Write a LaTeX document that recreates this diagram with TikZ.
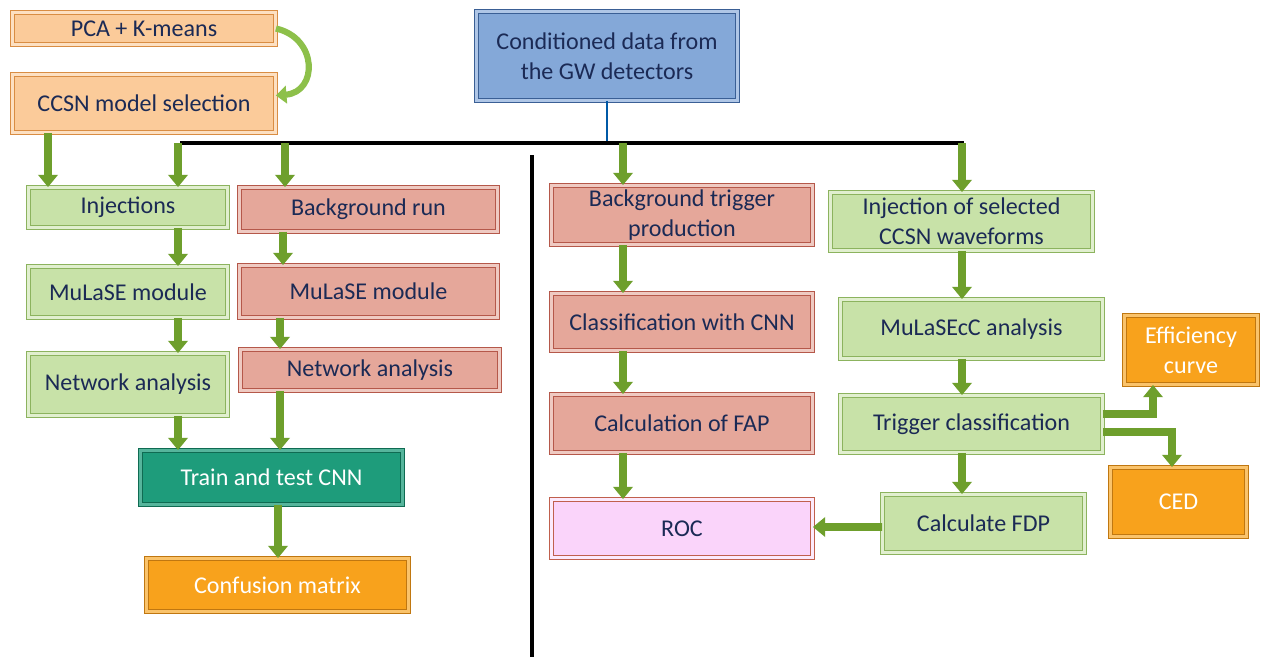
\documentclass[tikz,border=0pt]{standalone}
\usepackage{fontspec}
\setmainfont{Carlito}
\usetikzlibrary{arrows.meta,calc}
\definecolor{txt}{HTML}{1B2A55}
\definecolor{peachF}{HTML}{FBCB9A}\definecolor{peachD}{HTML}{D98D43}
\definecolor{blueF}{HTML}{84A8D8}\definecolor{blueD}{HTML}{3A5F95}
\definecolor{greenF}{HTML}{C8E2A8}\definecolor{greenD}{HTML}{8CB35E}
\definecolor{redF}{HTML}{E5A79A}\definecolor{redD}{HTML}{B5584A}
\definecolor{tealF}{HTML}{1E9C7B}\definecolor{tealD}{HTML}{0F6B52}
\definecolor{orF}{HTML}{F8A21C}\definecolor{orD}{HTML}{C07710}
\definecolor{pinkF}{HTML}{FAD4FA}\definecolor{pinkD}{HTML}{C0604D}
\definecolor{arrG}{HTML}{6E9F2C}
\definecolor{arrL}{HTML}{8DC04A}
\tikzset{
  box/.style 2 args={rectangle, line width=0.5pt, double distance=2.2pt, text=txt, align=center,
    font=\fontsize{13.7}{17}\selectfont, inner sep=0pt,
    minimum width=(#1-5)*0.02cm, minimum height=(#2-5)*0.02cm},
  peach/.style={fill=peachF, draw=peachD, double=peachF!60!white},
  blue/.style={fill=blueF, draw=blueD, double=blueF!65!white},
  green/.style={fill=greenF, draw=greenD, double=greenF!55!white},
  red/.style={fill=redF, draw=redD, double=redF!60!white},
  teal/.style={fill=tealF, draw=tealD, double=tealF!75!white, text=white},
  orange/.style={fill=orF, draw=orD, double=orF!65!white, text=white},
  pink/.style={fill=pinkF, draw=pinkD, double=pinkF!50!white},
  garrow/.style={draw=arrG, line width=4.5pt, -{Triangle[width=11pt,length=7pt]}},
  carrow/.style={draw=arrL, line width=3.5pt, -{Triangle[width=10pt,length=6pt]}},
  bus/.style={draw=black, line width=2.1pt},
}
\begin{document}
\begin{tikzpicture}[x=0.02cm,y=-0.02cm]
\useasboundingbox[fill=white] (0,0) rectangle (1262,657);
% left column nodes
\node[box={268}{37}, peach] (pca) at (144,28.5) {PCA + K-means};
\node[box={268}{63}, peach] (ccsn) at (144,103.5) {CCSN model selection};
\node[box={266}{94}, blue] (cond) at (607,56) {Conditioned data from\\the GW detectors};
\node[box={204}{45}, green] (inj) at (128,207.5) {Injections};
\node[box={263}{49}, red] (bgrun) at (368.5,209.5) {Background run};
\node[box={204}{56}, green] (mul1) at (128,292) {MuLaSE module};
\node[box={263}{57}, red] (mul2) at (368.5,291.5) {MuLaSE module};
\node[box={204}{67}, green] (net1) at (128,384.5) {Network analysis};
\node[box={264}{46}, red] (net2) at (370,370) {Network analysis};
\node[box={267}{59}, teal] (train) at (271.5,477.5) {Train and test CNN};
\node[box={267}{58}, orange] (conf) at (277.5,585) {Confusion matrix};
% right side
\node[box={266}{64}, red] (bgtrig) at (682,215) {Background trigger\\production};
\node[box={266}{62}, red] (cls) at (682,322) {Classification with CNN};
\node[box={266}{63}, red] (fap) at (682,423.5) {Calculation of FAP};
\node[box={266}{63}, pink] (roc) at (682,528.5) {ROC};
\node[box={267}{63}, green] (injsel) at (961.5,221.5) {Injection of selected\\CCSN waveforms};
\node[box={267}{64}, green] (mulc) at (971.5,329) {MuLaSEcC analysis};
\node[box={267}{62}, green] (trig) at (971.5,424) {Trigger classification};
\node[box={207}{63}, green] (fdp) at (983.5,523.5) {Calculate FDP};
\node[box={138}{74}, orange] (eff) at (1191,350) {Efficiency\\curve};
\node[box={141}{74}, orange] (ced) at (1178.5,502) {CED};
% bus lines
\coordinate (bL) at (180,143);
\coordinate (bR) at (964,143);
\coordinate (b1) at (178,143);
\coordinate (b2) at (285,143);
\coordinate (b3) at (623,143);
\coordinate (b4) at (962,143);
\coordinate (bc) at (607,143);
\coordinate (vT) at (532,155);
\coordinate (vB) at (532,657);
\coordinate (c1) at (48,0);
\coordinate (r1) at (283,0);
\coordinate (r2) at (280,0);
\coordinate (t1) at (278,0);
\draw[draw=teal!70!blue, line width=0.6pt] (cond.south) -- (bc);
\draw[bus] (bL) -- (bR);
\draw[bus] (vT) -- (vB);
% curved arrow
\draw[carrow] (pca.east) .. controls (318,38) and (318,92) .. ($(ccsn.east)+(0,-8)$);
% left arrows
\draw[garrow] (ccsn.south -| c1) -- (inj.north -| c1);
\draw[garrow] (b1) -- (inj.north -| b1);
\draw[garrow] (b2) -- (bgrun.north -| b2);
\draw[garrow] (inj.south -| b1) -- (mul1.north -| b1);
\draw[garrow] (mul1.south -| b1) -- (net1.north -| b1);
\draw[garrow] (net1.south -| b1) -- (train.north -| b1);
\draw[garrow] (bgrun.south -| r1) -- (mul2.north -| r1);
\draw[garrow] (mul2.south -| r2) -- (net2.north -| r2);
\draw[garrow] (net2.south -| r2) -- (train.north -| r2);
\draw[garrow] (train.south -| t1) -- (conf.north -| t1);
% right arrows
\draw[garrow] (b3) -- (bgtrig.north -| b3);
\draw[garrow] (bgtrig.south -| b3) -- (cls.north -| b3);
\draw[garrow] (cls.south -| b3) -- (fap.north -| b3);
\draw[garrow] (fap.south -| b3) -- (roc.north -| b3);
\draw[garrow] (b4) -- (injsel.north -| b4);
\draw[garrow] (injsel.south -| b4) -- (mulc.north -| b4);
\draw[garrow] (mulc.south -| b4) -- (trig.north -| b4);
\draw[garrow] (trig.south -| b4) -- (fdp.north -| b4);
\draw[garrow] ($(fdp.west)+(0,3.5)$) -- ($(roc.east)+(0,-1.5)$);
\draw[garrow] ($(trig.east)+(0,-10)$) -| ($(eff.south)+(-38,0)$);
\draw[garrow] ($(trig.east)+(0,8)$) -| ($(ced.north)+(-6.5,0)$);
\end{tikzpicture}
\end{document}
